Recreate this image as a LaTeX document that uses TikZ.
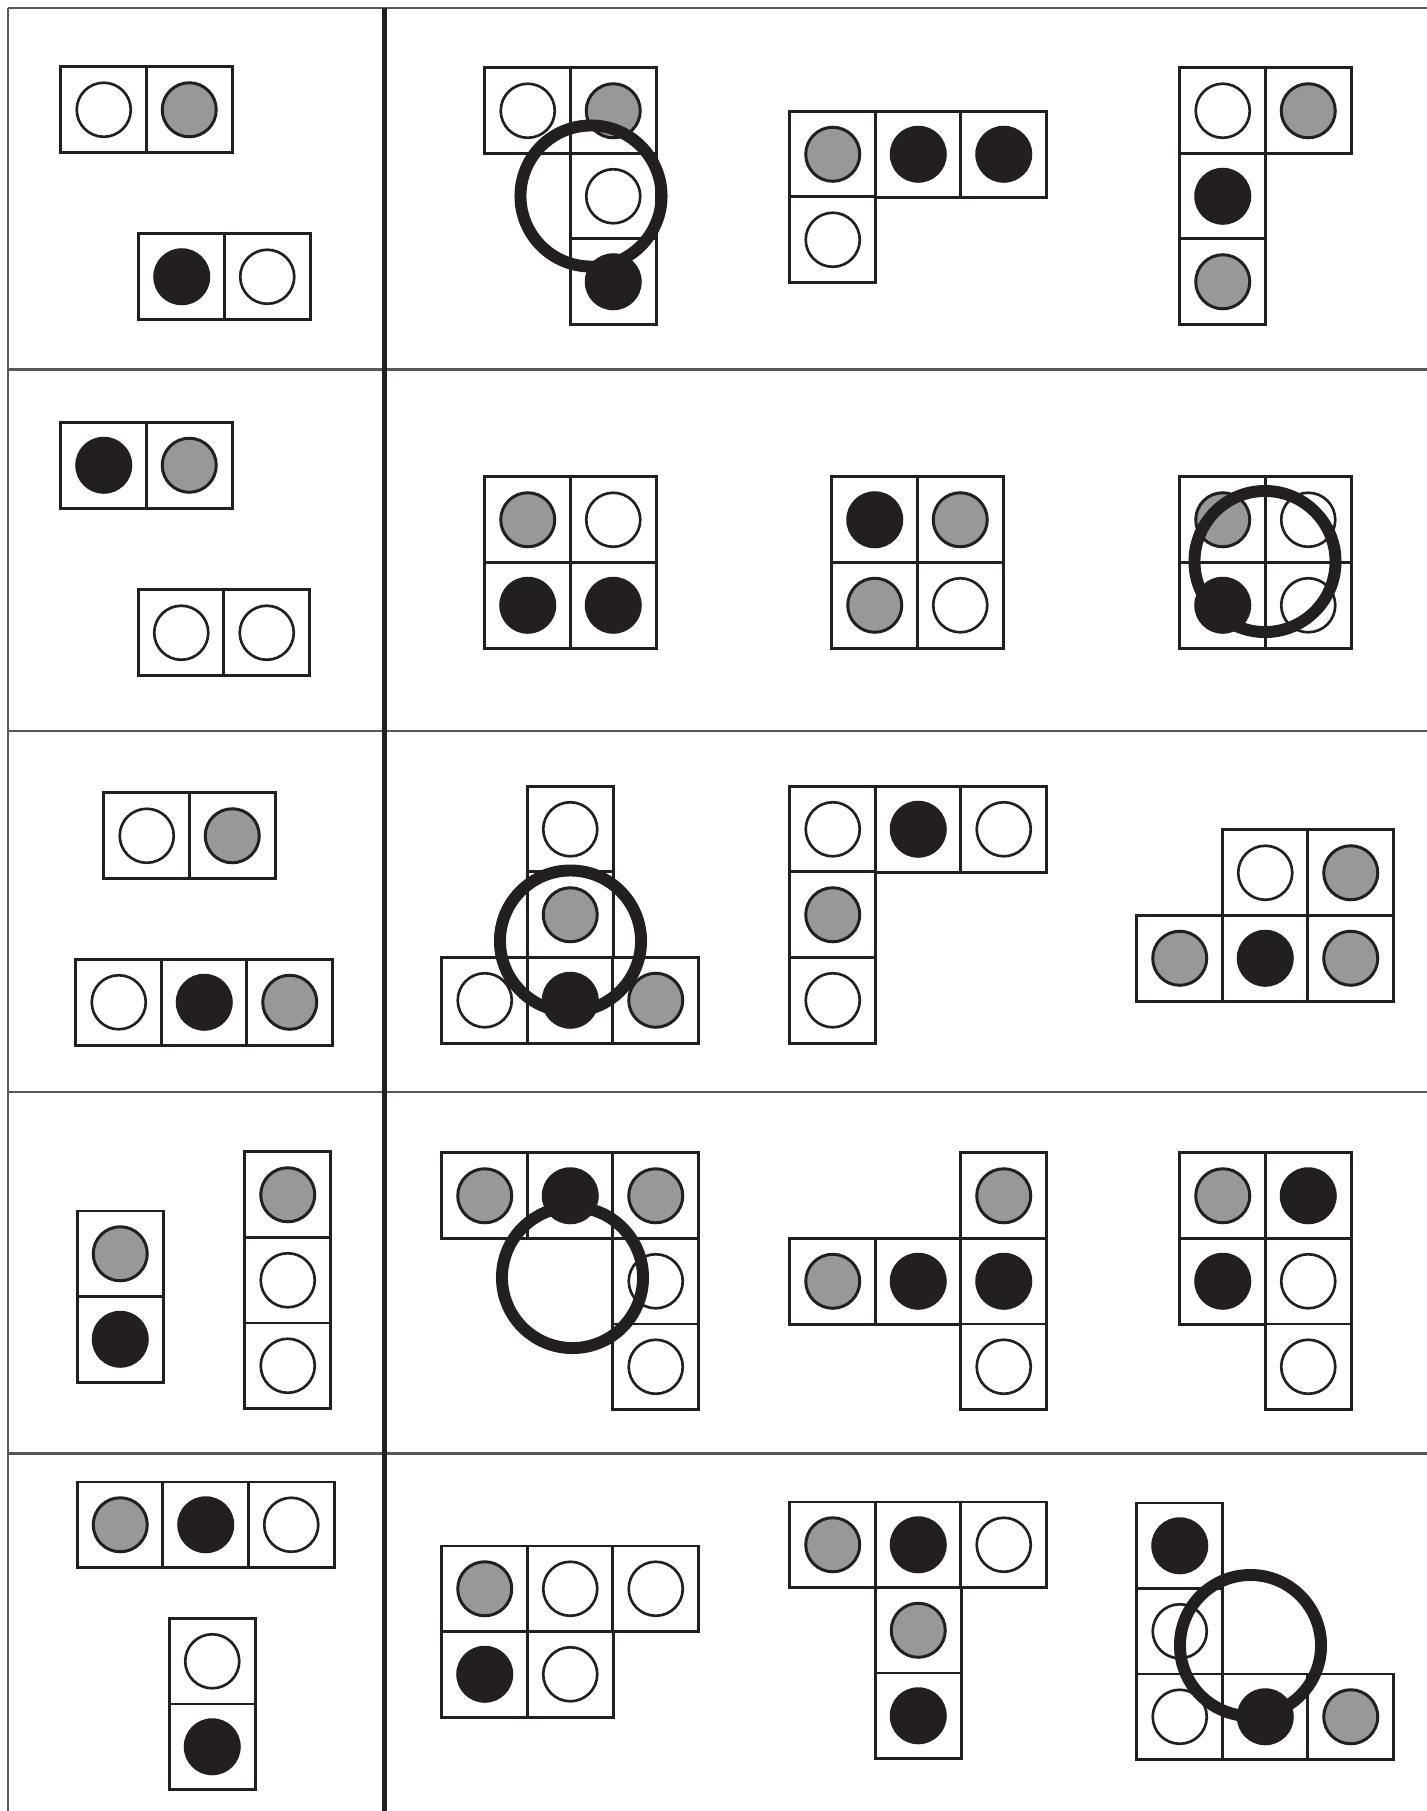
\documentclass[tikz,border=0pt]{standalone}
\usepackage{xcolor}
\usepackage{tikz}
\definecolor{ink}{HTML}{231F20}
\definecolor{dotgray}{HTML}{989898}
\tikzset{
  cell/.style={rectangle, draw=ink, line width=0.85pt, fill=white,
               minimum size=0.855cm, inner sep=0pt, outer sep=0pt},
  cellW/.style={cell, path picture={\draw[draw=ink, line width=0.75pt, fill=white]
                (path picture bounding box.center) circle (0.27cm);}},
  cellG/.style={cell, path picture={\draw[draw=ink, line width=0.85pt, fill=dotgray]
                (path picture bounding box.center) circle (0.27cm);}},
  cellB/.style={cell, path picture={\fill[ink]
                (path picture bounding box.center) circle (0.285cm);}},
  ring/.style={circle, draw=ink, line width=3.4pt, minimum size=1.41cm, inner sep=0pt},
  rule/.style={draw=ink!75, line width=0.6pt},
  divider/.style={draw=ink, line width=1.5pt},
}

\begin{document}
\begin{tikzpicture}[x=0.01cm, y=-0.01cm]
  \useasboundingbox (0,0) rectangle (1427,1811);

  % table rules
  \draw[rule] (8,8) -- (1427,8);
  \draw[rule] (8,369.5) -- (1427,369.5);
  \draw[rule] (8,731) -- (1427,731);
  \draw[rule] (8,1092) -- (1427,1092);
  \draw[rule] (8,1453.5) -- (1427,1453.5);
  \draw[rule] (8,8) -- (8,1811);
  \draw[divider] (384.5,8) -- (384.5,1811);

  % row 1 -- given pieces
  \node[cellW] (g1a) at (103.75,109.75) {};
  \node[cellG] (g1b) at (189.25,109.75) {};
  \node[cellB] (g1c) at (181.75,276.75) {};
  \node[cellW] (g1d) at (267.25,276.75) {};
  % row 1 -- choices
  \node[cellW] (c11a) at (527.75,110.75) {};
  \node[cellG] (c11b) at (613.25,110.75) {};
  \node[cellW] (c11c) at (613.25,196.25) {};
  \node[cellB] (c11d) at (613.25,281.75) {};

  \node[cellG] (c12a) at (832.75,154.25) {};
  \node[cellB] (c12b) at (918.25,154.25) {};
  \node[cellB] (c12c) at (1003.75,154.25) {};
  \node[cellW] (c12d) at (832.75,239.75) {};

  \node[cellW] (c13a) at (1222.75,110.75) {};
  \node[cellG] (c13b) at (1308.25,110.75) {};
  \node[cellB] (c13c) at (1222.75,196.25) {};
  \node[cellG] (c13d) at (1222.75,281.75) {};

  % row 2 -- given pieces
  \node[cellB] (g2a) at (103.75,465.25) {};
  \node[cellG] (g2b) at (189.25,465.25) {};
  \node[cellW] (g2c) at (181.25,632.75) {};
  \node[cellW] (g2d) at (266.75,632.75) {};
  % row 2 -- choices
  \node[cellG] (c21a) at (527.75,519.75) {};
  \node[cellW] (c21b) at (613.25,519.75) {};
  \node[cellB] (c21c) at (527.75,605.25) {};
  \node[cellB] (c21d) at (613.25,605.25) {};

  \node[cellB] (c22a) at (874.75,519.75) {};
  \node[cellG] (c22b) at (960.25,519.75) {};
  \node[cellG] (c22c) at (874.75,605.25) {};
  \node[cellW] (c22d) at (960.25,605.25) {};

  \node[cellG] (c23a) at (1222.75,519.75) {};
  \node[cellW] (c23b) at (1308.25,519.75) {};
  \node[cellB] (c23c) at (1222.75,605.25) {};
  \node[cellW] (c23d) at (1308.25,605.25) {};

  % row 3 -- given pieces
  \node[cellW] (g3a) at (146.75,835.75) {};
  \node[cellG] (g3b) at (232.25,835.75) {};
  \node[cellW] (g3c) at (118.75,1002.25) {};
  \node[cellB] (g3d) at (204.25,1002.25) {};
  \node[cellG] (g3e) at (289.75,1002.25) {};
  % row 3 -- choices
  \node[cellW] (c31a) at (570.25,829.25) {};
  \node[cellG] (c31b) at (570.25,914.75) {};
  \node[cellW] (c31c) at (484.75,1000.25) {};
  \node[cellB] (c31d) at (570.25,1000.25) {};
  \node[cellG] (c31e) at (655.75,1000.25) {};

  \node[cellW] (c32a) at (832.75,829.25) {};
  \node[cellB] (c32b) at (918.25,829.25) {};
  \node[cellW] (c32c) at (1003.75,829.25) {};
  \node[cellG] (c32d) at (832.75,914.75) {};
  \node[cellW] (c32e) at (832.75,1000.25) {};

  \node[cellW] (c33a) at (1265.25,872.75) {};
  \node[cellG] (c33b) at (1350.75,872.75) {};
  \node[cellG] (c33c) at (1179.75,958.25) {};
  \node[cellB] (c33d) at (1265.25,958.25) {};
  \node[cellG] (c33e) at (1350.75,958.25) {};

  % row 4 -- given pieces
  \node[cellG] (g4a) at (120.25,1253.75) {};
  \node[cellB] (g4b) at (120.25,1339.25) {};
  \node[cellG] (g4c) at (287.75,1194.75) {};
  \node[cellW] (g4d) at (287.75,1280.25) {};
  \node[cellW] (g4e) at (287.75,1365.75) {};
  % row 4 -- choices
  \node[cellG] (c41a) at (484.75,1195.75) {};
  \node[cellB] (c41b) at (570.25,1195.75) {};
  \node[cellG] (c41c) at (655.75,1195.75) {};
  \node[cellW] (c41d) at (655.75,1281.25) {};
  \node[cellW] (c41e) at (655.75,1366.75) {};

  \node[cellG] (c42a) at (1003.75,1195.75) {};
  \node[cellG] (c42b) at (832.75,1281.25) {};
  \node[cellB] (c42c) at (918.25,1281.25) {};
  \node[cellB] (c42d) at (1003.75,1281.25) {};
  \node[cellW] (c42e) at (1003.75,1366.75) {};

  \node[cellG] (c43a) at (1222.75,1195.75) {};
  \node[cellB] (c43b) at (1308.25,1195.75) {};
  \node[cellB] (c43c) at (1222.75,1281.25) {};
  \node[cellW] (c43d) at (1308.25,1281.25) {};
  \node[cellW] (c43e) at (1308.25,1366.75) {};

  % row 5 -- given pieces
  \node[cellG] (g5a) at (120.25,1524.75) {};
  \node[cellB] (g5b) at (205.75,1524.75) {};
  \node[cellW] (g5c) at (291.25,1524.75) {};
  \node[cellW] (g5d) at (212.25,1661.25) {};
  \node[cellB] (g5e) at (212.25,1746.75) {};
  % row 5 -- choices
  \node[cellG] (c51a) at (484.75,1588.75) {};
  \node[cellW] (c51b) at (570.25,1588.75) {};
  \node[cellW] (c51c) at (655.75,1588.75) {};
  \node[cellB] (c51d) at (484.75,1674.25) {};
  \node[cellW] (c51e) at (570.25,1674.25) {};

  \node[cellG] (c52a) at (832.75,1544.75) {};
  \node[cellB] (c52b) at (918.25,1544.75) {};
  \node[cellW] (c52c) at (1003.75,1544.75) {};
  \node[cellG] (c52d) at (918.25,1630.25) {};
  \node[cellB] (c52e) at (918.25,1715.75) {};

  \node[cellB] (c53a) at (1179.75,1545.75) {};
  \node[cellW] (c53b) at (1179.75,1631.25) {};
  \node[cellW] (c53c) at (1179.75,1716.75) {};
  \node[cellB] (c53d) at (1265.25,1716.75) {};
  \node[cellG] (c53e) at (1350.75,1716.75) {};

  % marked rings
  \node[ring] (ring1) at (591,196) {};
  \node[ring] (ring2) at (1265,561.5) {};
  \node[ring] (ring3) at (570.5,941) {};
  \node[ring] (ring4) at (572.5,1277.5) {};
  \node[ring] (ring5) at (1250.5,1645.5) {};
\end{tikzpicture}
\end{document}
